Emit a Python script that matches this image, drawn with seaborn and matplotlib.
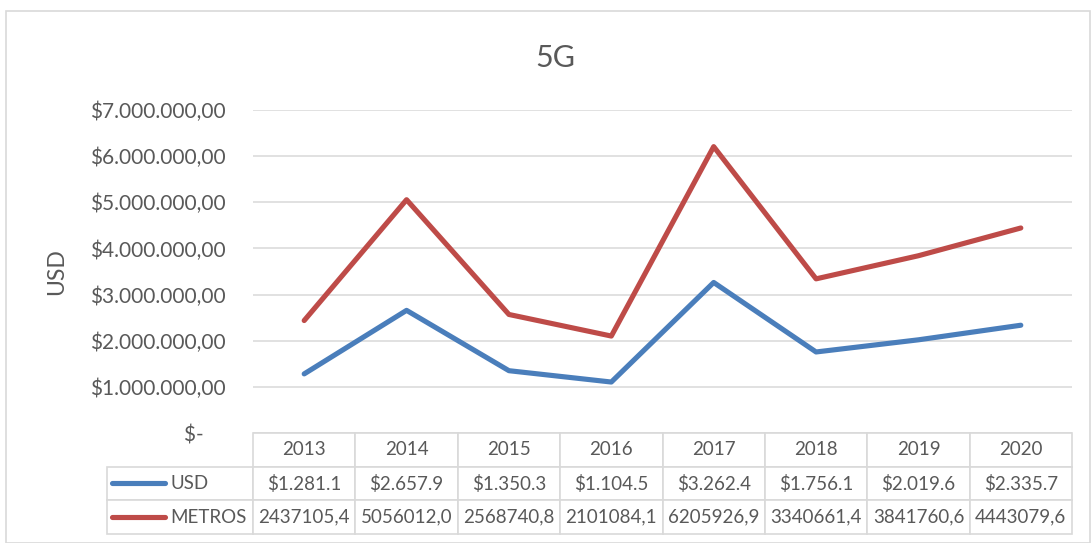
import numpy as np
import pandas as pd
import matplotlib
matplotlib.use("Agg")
import matplotlib.pyplot as plt
import seaborn as sns
from matplotlib.patches import Rectangle

years = ["2013", "2014", "2015", "2016", "2017", "2018", "2019", "2020"]
usd_miles = [1281.1, 2657.9, 1350.3, 1104.5, 3262.4, 1756.1, 2019.6, 2335.7]
metros = [2437105.4, 5056012.0, 2568740.8, 2101084.1, 6205926.9, 3340661.4, 3841760.6, 4443079.6]
series_names = ["USD", "METROS"]
colors = ["#4A7EBB", "#BE4B48"]
text_gray = "#595959"
grid_gray = "#D9D9D9"

sns.set_theme(style="white")
plt.rcParams["font.family"] = ["Lato", "DejaVu Sans"]

df = pd.DataFrame({
    "pos": list(range(len(years))) * 2,
    "valor": [v * 1000 for v in usd_miles] + metros,
    "serie": ["USD"] * len(years) + ["METROS"] * len(years),
})

fig = plt.figure(figsize=(10.92, 5.43), dpi=100)
fig.patches.append(Rectangle((6 / 1092, 0.0), 1084 / 1092, 1 - 11 / 543,
                             transform=fig.transFigure, fill=False,
                             edgecolor=grid_gray, linewidth=1.2))

ax = fig.add_axes([253 / 1092, 1 - 433 / 543, 819 / 1092, 323 / 543])
sns.lineplot(data=df, x="pos", y="valor", hue="serie", hue_order=series_names,
             palette=colors, linewidth=3.7, ax=ax, legend=False,
             solid_capstyle="round")

ax.set_xlim(-0.5, len(years) - 0.5)
ax.set_ylim(0, 7000000)
ax.set_yticks(np.arange(0, 7000001, 1000000))


def money(v):
    if v == 0:
        return "\\$-    "
    s = f"{v:,.2f}".replace(",", "X").replace(".", ",").replace("X", ".")
    return "\\$" + s


ax.set_yticklabels([money(v) for v in ax.get_yticks()])
ax.tick_params(axis="y", length=0, pad=20, labelsize=15, labelcolor=text_gray)
ax.set_xticks([])
ax.set_xlabel("")
ax.set_ylabel("")
for s in ax.spines.values():
    s.set_visible(False)
ax.yaxis.grid(True, color=grid_gray, linewidth=1.1)
ax.set_axisbelow(True)

fig.text(555 / 1092, 1 - 58 / 543, "5G", ha="center", va="center",
         fontsize=22, color=text_gray)
fig.text(57 / 1092, 1 - 272 / 543, "USD", ha="center", va="center",
         rotation=90, fontsize=16.5, color=text_gray)

# tabla de datos debajo del grafico
usd_labels = ["$" + f"{v:,.1f}".replace(",", ".") for v in usd_miles]
metros_labels = [f"{v:.1f}".replace(".", ",") for v in metros]
cell_text = [[""] + usd_labels, [""] + metros_labels]
label_w = 146 / 819
tbl = ax.table(cellText=cell_text, colLabels=[""] + years, cellLoc="center",
               colWidths=[label_w] + [1 / len(years)] * len(years),
               bbox=[-label_w, -0.3127, 1 + label_w, 0.3127])
tbl.auto_set_font_size(False)
tbl.set_fontsize(13.5)
for (r, c), cell in tbl.get_celld().items():
    cell.set_edgecolor(grid_gray)
    cell.set_linewidth(1.2)
    cell.get_text().set_color(text_gray)
tbl[0, 0].visible_edges = "open"

row_y = [-0.156, -0.2606]
for name, col, yy in zip(series_names, colors, row_y):
    ax.plot([-0.172, -0.1074], [yy, yy], color=col, linewidth=3.7,
            solid_capstyle="round", transform=ax.transAxes, clip_on=False)
    ax.text(-0.1013, yy, name, transform=ax.transAxes, ha="left",
            va="center", fontsize=13.5, color=text_gray)

fig.savefig("out.png", dpi=100)
